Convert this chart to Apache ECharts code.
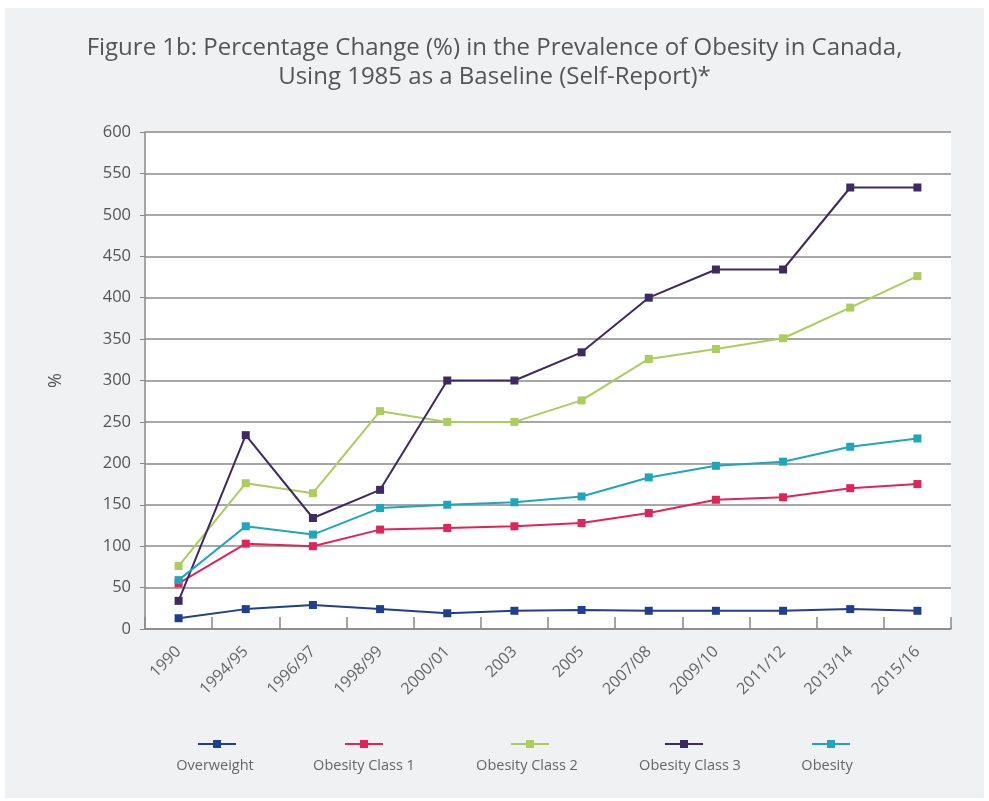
<!DOCTYPE html>
<html><head><meta charset="utf-8">
<script src="https://cdn.jsdelivr.net/npm/echarts@6/dist/echarts.min.js"></script>
<style>
html,body{margin:0;padding:0;background:#fff;}
#c{position:absolute;left:5px;top:8px;width:979px;height:790px;background:#f0f1f3;}
</style></head>
<body><div id="c"></div>
<script>
const categories = ['1990','1994/95','1996/97','1998/99','2000/01','2003','2005','2007/08','2009/10','2011/12','2013/14','2015/16'];
const overweight = [13, 24, 29, 24, 19, 22, 23, 22, 22, 22, 24, 22];
const obesityClass1 = [55, 103, 100, 120, 122, 124, 128, 140, 156, 159, 170, 175];
const obesityClass2 = [76, 176, 164, 263, 250, 250, 276, 326, 338, 351, 388, 426];
const obesityClass3 = [34, 234, 134, 168, 300, 300, 334, 400, 434, 434, 533, 533];
const obesity = [59, 124, 114, 146, 150, 153, 160, 183, 197, 202, 220, 230];
const yTicks = {min: 0, max: 600, interval: 50};

const seriesDefs = [
  {name: 'Overweight', data: overweight, color: '#1f3f8f'},
  {name: 'Obesity Class 1', data: obesityClass1, color: '#e0245a'},
  {name: 'Obesity Class 2', data: obesityClass2, color: '#aacd5e'},
  {name: 'Obesity Class 3', data: obesityClass3, color: '#3e2a60'},
  {name: 'Obesity', data: obesity, color: '#1ea6ba'}
];
// page-x centres of legend icons and texts (container is offset 5px)
const iconCenters = [211, 358, 524, 678, 825];
const textCenters = [210, 359, 522, 685, 822];
const font = '"Open Sans", Lato, sans-serif';
const legendFontSize = 14.5;

const ctx = document.createElement('canvas').getContext('2d');
ctx.font = legendFontSize + 'px ' + font;

const legends = [];
seriesDefs.forEach((s, i) => {
  legends.push({
    data: [s.name], left: iconCenters[i] - 5 - 19, top: 726,
    itemWidth: 38, itemHeight: 10, formatter: () => '',
    textStyle: {fontSize: 1}
  });
  const w = ctx.measureText(s.name).width;
  legends.push({
    data: [s.name], left: textCenters[i] - 5 - 5 - w / 2, top: 745,
    itemWidth: 0, itemHeight: 0, icon: 'rect',
    textStyle: {fontSize: legendFontSize, color: '#666', fontFamily: font}
  });
});

const chart = echarts.init(document.getElementById('c'), null, {renderer: 'canvas'});
chart.setOption({
  backgroundColor: '#f0f1f3',
  animation: false,
  title: {
    text: 'Figure 1b: Percentage Change (%) in the Prevalence of Obesity in Canada,\nUsing 1985 as a Baseline (Self-Report)*',
    left: 'center', top: 21,
    textStyle: {fontSize: 24, fontWeight: 'normal', color: '#555', fontFamily: font, lineHeight: 29, align: 'center'}
  },
  legend: legends,
  grid: {left: 140, right: 33, top: 124, bottom: 169, show: true, backgroundColor: '#fff', borderWidth: 0},
  xAxis: {
    type: 'category', data: categories, boundaryGap: true,
    axisLine: {lineStyle: {color: '#888', width: 1.5}},
    axisTick: {show: true, inside: true, length: 12, lineStyle: {color: '#888', width: 1.5}},
    axisLabel: {rotate: 45, fontSize: 16, color: '#666', fontFamily: font, margin: 20, interval: 0}
  },
  yAxis: {
    type: 'value', min: yTicks.min, max: yTicks.max, interval: yTicks.interval,
    name: '%', nameLocation: 'middle', nameGap: 80, nameRotate: 90,
    nameTextStyle: {fontSize: 18, color: '#555', fontFamily: font},
    axisLine: {show: true, lineStyle: {color: '#888', width: 1.5}},
    axisTick: {show: true, length: 5, lineStyle: {color: '#888'}},
    axisLabel: {fontSize: 16.5, color: '#555', fontFamily: font, margin: 14},
    splitLine: {lineStyle: {color: '#8a8a8a', width: 1.5}}
  },
  series: seriesDefs.map(s => ({
    name: s.name, type: 'line', data: s.data,
    symbol: 'rect', symbolSize: 8,
    lineStyle: {color: s.color, width: 2},
    itemStyle: {color: s.color}
  }))
});
</script></body></html>
